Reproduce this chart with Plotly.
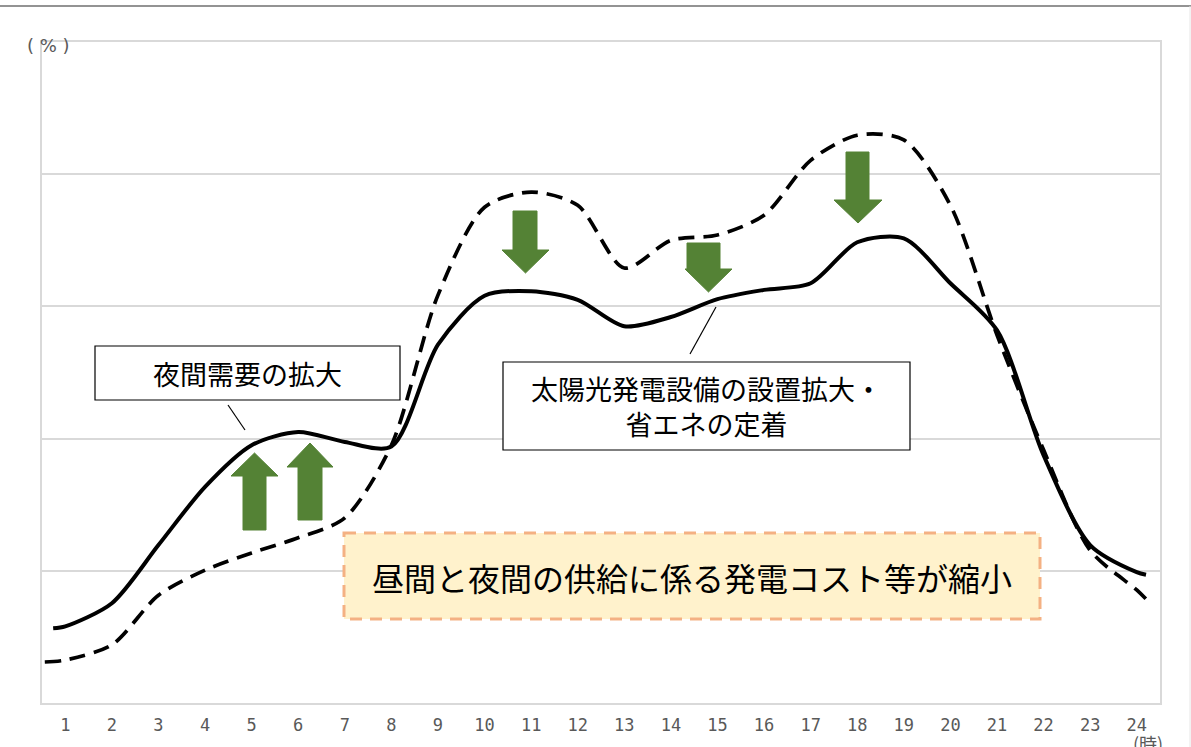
import plotly.graph_objects as go

# Hours (x) and load shape values (% of axis scale)
hours = [0.74, 1, 2, 3, 4, 5, 6, 7, 8, 9, 10, 11, 12, 13, 14, 15, 16, 17, 18, 19, 20, 21, 22, 23, 24, 24.2]
after_values = [11.3, 11.6, 15.1, 23.9, 32.7, 39.0, 41.0, 39.5, 38.8, 54.2, 61.6, 62.3, 61.0, 57.0, 58.4,
                61.1, 62.5, 63.5, 69.7, 70.3, 63.5, 56.4, 37.5, 23.9, 19.8, 19.4]

hours_before = [0.56, 1, 2, 3, 4, 5, 6, 7, 8, 9, 10, 11, 12, 13, 14, 15, 16, 17, 18, 19, 20, 21, 22, 23, 24, 24.26]
before_values = [6.2, 6.5, 8.8, 16.3, 20.1, 22.7, 25.0, 28.0, 39.0, 61.7, 75.0, 77.3, 75.3, 65.8, 70.0,
                 70.8, 73.8, 82.1, 85.9, 85.2, 75.3, 55.7, 38.3, 23.1, 17.1, 15.3]

tick_hours = list(range(1, 25))
tick_labels = [str(h) for h in tick_hours]

W, H = 1191, 747
L, R, T, B = 42, 31, 42, 44
PW, PH = W - L - R, H - T - B
XMIN, XMAX = 0.5, 24.5
YMIN, YMAX = 0, 100


def dx(px):
    return XMIN + (px - L) / PW * (XMAX - XMIN)


def dy(py):
    return YMIN + (T + PH - py) / PH * (YMAX - YMIN)


def px_(px):
    return (px - L) / PW


def py_(py):
    return (T + PH - py) / PH


fig = go.Figure()
fig.add_trace(go.Scatter(x=hours_before, y=before_values, mode="lines",
                         line=dict(color="black", width=3.7, dash="16px,9px", shape="spline", smoothing=0.8),
                         hoverinfo="skip", showlegend=False))
fig.add_trace(go.Scatter(x=hours, y=after_values, mode="lines",
                         line=dict(color="black", width=4, shape="spline", smoothing=0.8),
                         hoverinfo="skip", showlegend=False))

shapes = []
GREEN = "#548235"


def arrow(x0, x1, sx0, sx1, tip, head, tail):
    # vertical block arrow in pixel space
    path = (f"M {dx(sx0)},{dy(tail)} L {dx(sx0)},{dy(head)} L {dx(x0)},{dy(head)} "
            f"L {dx((x0 + x1) / 2)},{dy(tip)} L {dx(x1)},{dy(head)} L {dx(sx1)},{dy(head)} "
            f"L {dx(sx1)},{dy(tail)} Z")
    shapes.append(dict(type="path", path=path, xref="x", yref="y", fillcolor=GREEN,
                       line=dict(color=GREEN, width=1), layer="above"))


# up arrows
arrow(231, 278, 243, 266, 453, 476, 530)
arrow(287, 333, 298, 322, 443, 467, 520)
# down arrows
arrow(502, 549, 513, 537, 273, 250, 211)
arrow(685, 732, 687, 720, 292, 269, 243)
arrow(834, 882, 846, 869, 223, 200, 152)

# leader lines
shapes.append(dict(type="line", xref="x", yref="y", x0=dx(228), y0=dy(405), x1=dx(245), y1=dy(430),
                   line=dict(color="black", width=1.2)))
shapes.append(dict(type="line", xref="x", yref="y", x0=dx(690), y0=dy(354), x1=dx(716), y1=dy(307),
                   line=dict(color="black", width=1.2)))

# boxes
shapes.append(dict(type="rect", xref="x", yref="y", x0=dx(95), x1=dx(400), y0=dy(346), y1=dy(400),
                   fillcolor="white", line=dict(color="black", width=1.2)))
shapes.append(dict(type="rect", xref="x", yref="y", x0=dx(503), x1=dx(910), y0=dy(362), y1=dy(450),
                   fillcolor="white", line=dict(color="black", width=1.2)))
shapes.append(dict(type="rect", xref="x", yref="y", x0=dx(344), x1=dx(1040), y0=dy(533), y1=dy(619),
                   fillcolor="#FFF2CC", line=dict(color="#F4B183", width=3, dash="12px,8px")))

# outer frame lines
shapes.append(dict(type="line", xref="paper", yref="paper", x0=px_(0), x1=px_(W), y0=py_(6), y1=py_(6),
                   line=dict(color="#6f6f6f", width=1.5)))
shapes.append(dict(type="line", xref="paper", yref="paper", x0=px_(1190), x1=px_(1190), y0=py_(6), y1=py_(H),
                   line=dict(color="#e6e6e6", width=1)))

JP = "Noto Sans CJK JP"
annotations = [
    dict(x=dx(247), y=dy(373), xref="x", yref="y", text="夜間需要の拡大", showarrow=False,
         xanchor="center", yanchor="middle", font=dict(family=JP, size=27, color="black")),
    dict(x=dx(706), y=dy(406), xref="x", yref="y", text="太陽光発電設備の設置拡大・<br>省エネの定着",
         showarrow=False, xanchor="center", yanchor="middle",
         font=dict(family=JP, size=27, color="black"), align="center"),
    dict(x=dx(692), y=dy(577), xref="x", yref="y", text="昼間と夜間の供給に係る発電コスト等が縮小",
         showarrow=False, xanchor="center", yanchor="middle", font=dict(family=JP, size=32, color="black")),
    dict(x=px_(48), y=py_(46), xref="paper", yref="paper", text="( % )", showarrow=False,
         xanchor="center", yanchor="middle", font=dict(family="DejaVu Sans", size=18, color="#595959")),
    dict(x=px_(1148), y=py_(728), xref="paper", yref="paper", text="(時)", showarrow=False,
         xanchor="center", yanchor="top", font=dict(family=JP, size=18, color="#595959")),
]

fig.update_layout(
    width=W, height=H, autosize=False,
    margin=dict(l=L, r=R, t=T, b=B),
    paper_bgcolor="white", plot_bgcolor="white",
    shapes=shapes, annotations=annotations,
    showlegend=False,
    xaxis=dict(range=[XMIN, XMAX], tickmode="array", tickvals=tick_hours, ticktext=tick_labels,
               showgrid=False, zeroline=False, showline=True, linecolor="#d9d9d9", linewidth=2, mirror=True,
               ticks="", ticklen=0, ticklabelstandoff=6,
               tickfont=dict(family="DejaVu Sans Mono", size=17, color="#595959"),
               fixedrange=True),
    yaxis=dict(range=[YMIN, YMAX], dtick=20, showticklabels=False, showgrid=True, gridcolor="#d9d9d9",
               gridwidth=1.5, zeroline=False, showline=True, linecolor="#d9d9d9", linewidth=2, mirror=True,
               ticks="", fixedrange=True),
)

fig.write_html("out.html", config={"displayModeBar": False},
               post_script="document.body.style.margin='0px';document.body.style.padding='0px';")
